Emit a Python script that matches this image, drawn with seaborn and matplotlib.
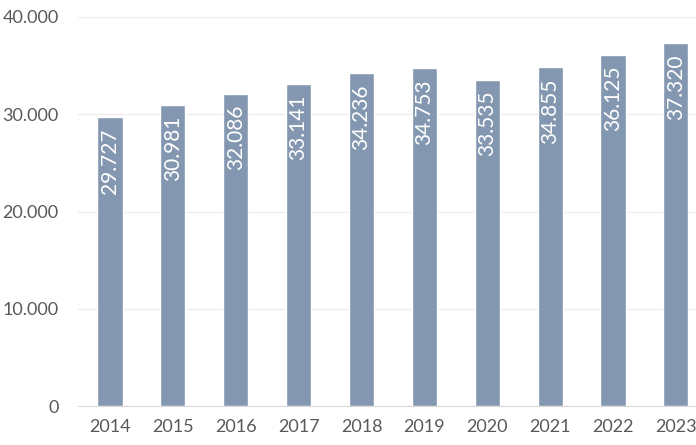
import matplotlib
matplotlib.use("Agg")
import matplotlib.pyplot as plt
import seaborn as sns
import pandas as pd

years = ["2014", "2015", "2016", "2017", "2018", "2019", "2020", "2021", "2022", "2023"]
values = [29727, 30981, 32086, 33141, 34236, 34753, 33535, 34855, 36125, 37320]
yticks = [0, 10000, 20000, 30000, 40000]

sns.set_style("white")
plt.rcParams["font.family"] = ["Lato", "DejaVu Sans"]

df = pd.DataFrame({"year": years, "value": values})

fig = plt.figure(figsize=(6.96, 4.45), dpi=100)
ax = fig.add_axes([0.112, 0.0876, 0.888, 0.8742])

sns.barplot(data=df, x="year", y="value", color="#8497B0", width=0.4,
            saturation=1, ax=ax, zorder=3)

def fmt(v):
    return f"{v:,}".replace(",", ".")

for i, v in enumerate(values):
    ax.annotate(fmt(v), (i, v), xytext=(0, -8), textcoords="offset points",
                rotation=90, ha="center", va="top", color="white", fontsize=15)

ax.set_ylim(0, 40000)
ax.set_xlim(-0.51, 9.32)
ax.set_yticks(yticks)
ax.set_yticklabels([fmt(t) for t in yticks])
ax.yaxis.grid(True, color="#EEEEEE", linewidth=1, zorder=0)
ax.set_axisbelow(True)
for s in ["top", "right", "left"]:
    ax.spines[s].set_visible(False)
ax.spines["bottom"].set_color("#D9D9D9")
ax.tick_params(axis="both", length=0, labelsize=13, colors="#595959")
ax.tick_params(axis="x", pad=9)
ax.tick_params(axis="y", pad=14)
ax.set_xlabel("")
ax.set_ylabel("")

fig.savefig("out.png", dpi=100)
